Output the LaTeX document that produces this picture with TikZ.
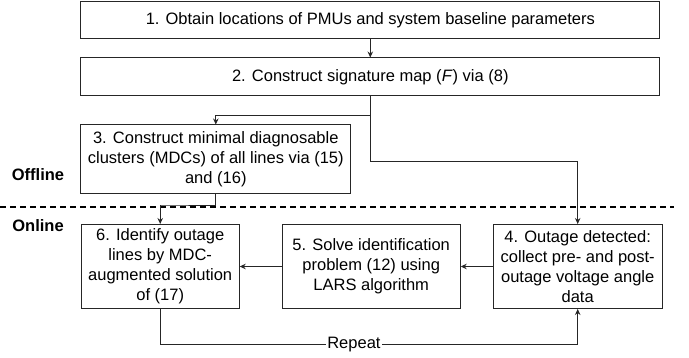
\documentclass[tikz,border=0pt]{standalone}
\usepackage{fontspec}
\setmainfont{Liberation Sans}
\usetikzlibrary{positioning,arrows.meta}

\begin{document}
\begin{tikzpicture}[x=1pt,y=-1pt,
    stepbox/.style={draw=black!85, line width=1pt, align=center, inner sep=0pt,
      font=\fontsize{16.5}{20}\selectfont},
    flow/.style={draw=black!85, line width=1pt, -{Stealth[length=6pt,width=5.5pt]}},
    phase/.style={font=\fontsize{16.5}{20}\selectfont\bfseries}]

  \useasboundingbox (0,0) rectangle (689,358);

  % Offline steps
  \node[stepbox, minimum width=579pt, minimum height=37pt] (s1) at (370.3,20.5)
    {1. Obtain locations of PMUs and system baseline parameters};
  \node[stepbox, minimum width=579pt, minimum height=38pt, below=18pt of s1] (s2)
    {2. Construct signature map (\textit{F}) via (8)};
  \node[stepbox, minimum width=270pt, minimum height=69pt,
        below right=28pt and 0pt of s2.south west] (s3)
    {3. Construct minimal diagnosable\\clusters (MDCs) of all lines via (15)\\and (16)};

  % Online steps
  \node[stepbox, minimum width=158pt, minimum height=84pt, anchor=north west] (s6) at (80.7,224)
    {6. Identify outage\\lines by MDC-\\augmented solution\\of (17)};
  \node[stepbox, minimum width=178pt, minimum height=84pt, right=42pt of s6] (s5)
    {5. Solve identification\\problem (12) using\\LARS algorithm};
  \node[stepbox, minimum width=169pt, minimum height=84pt, right=32pt of s5] (s4)
    {4. Outage detected:\\collect pre- and post-\\outage voltage angle\\data};

  % Phase labels
  \node[phase] (off) at (38,175) {Offline};
  \node[phase] (on) at (38,226) {Online};
  \draw[black, line width=1.2pt, dash pattern=on 6pt off 4pt] (0,207) -- (674,207);

  % Connect the nodes
  \coordinate (rp) at (0,345);
  \draw[flow] (s1) -- (s2);
  \draw[flow] (s2.south) |- ++(0,19) -| (s3.north);
  \draw[flow] (s2.south) |- ++(0,65) -| (s4.north);
  \draw[flow] (s3.south) |- (160,206) -| (s6.north);
  \draw[flow] (s4) -- (s5);
  \draw[flow] (s5) -- (s6);
  \draw[flow] (s6.south) -- (s6.south |- rp)
    -- node[pos=0.464, fill=white, inner sep=1pt, font=\fontsize{16.5}{20}\selectfont] (rep) {Repeat}
    (s4.south |- rp) -- (s4.south);

\end{tikzpicture}
\end{document}
